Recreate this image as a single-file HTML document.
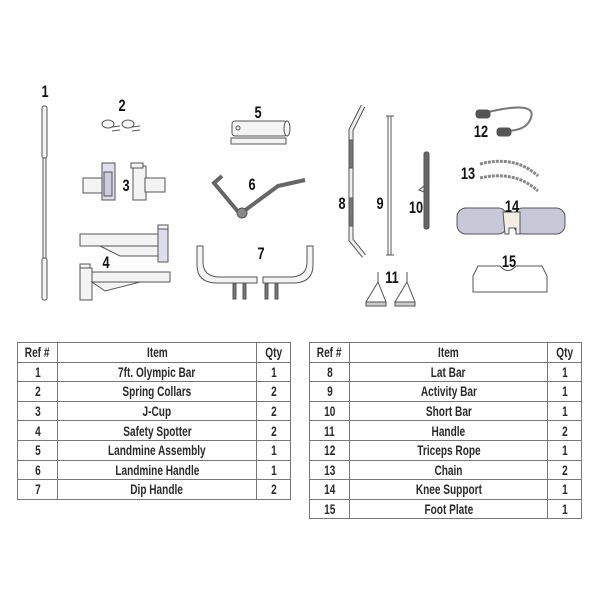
<!DOCTYPE html>
<html><head><meta charset="utf-8"><style>
body{margin:0;background:#fff;width:600px;height:600px;overflow:hidden;position:relative}
svg{position:absolute;left:0;top:0}
table{position:absolute;border-collapse:collapse;font-family:"Liberation Sans",sans-serif;font-weight:bold;font-size:14px;color:#2a2a2a;table-layout:fixed}
td{border:1px solid #777;text-align:center;height:18.6px;padding:0;line-height:18px;white-space:nowrap;overflow:visible}
td span{display:inline-block;transform:scaleX(0.72);transform-origin:center}
</style></head><body>
<svg width="600" height="600" viewBox="0 0 600 600" font-family="Liberation Sans, sans-serif" font-weight="bold" font-size="17" fill="#111">
<g stroke="#555" stroke-width="1" fill="#f4f4f4">
<rect x="42" y="106" width="5" height="52" rx="2"/>
<rect x="43" y="158" width="3" height="100"/>
<rect x="42" y="258" width="5" height="42" rx="2"/>
<ellipse cx="108" cy="124" rx="6" ry="4"/><path d="M112 127 l8 -1 M112 131 l8 -1" />
<ellipse cx="128" cy="124" rx="6" ry="4"/><path d="M132 127 l8 -1 M132 131 l8 -1"/>
<rect x="83" y="178" width="20" height="15"/><rect x="102" y="163" width="13" height="37" fill="#dde"/><rect x="104" y="172" width="8" height="24" fill="#ccd"/>
<rect x="133" y="166" width="13" height="34"/><rect x="145" y="178" width="20" height="14"/><rect x="131" y="163" width="12" height="5"/>
<rect x="80" y="234" width="80" height="12"/><path d="M100 246 L160 246 L160 256 L120 256 Z"/><rect x="158" y="229" width="10" height="33" fill="#dde"/><rect x="158" y="225" width="10" height="4"/>
<rect x="80" y="268" width="12" height="32"/><rect x="92" y="272" width="78" height="10"/><path d="M92 282 L140 282 L105 291 Z"/><rect x="80" y="264" width="10" height="4"/>
<rect x="231" y="138" width="55" height="6"/><rect x="232" y="121" width="55" height="15" rx="3"/><ellipse cx="287" cy="128.5" rx="3" ry="7.5"/><circle cx="238" cy="128" r="2"/>
<path d="M222 176 L214 183 L240 214 L278 186 L305 180" fill="none" stroke="#666" stroke-width="4"/>
<circle cx="242" cy="213" r="5" fill="#888"/>
<path d="M197 246 L197 265 Q197 282 215 283 L257 283 L257 277 L218 277 Q203 276 203 262 L203 246 Z"/>
<path d="M313 246 L313 265 Q313 282 295 283 L263 283 L263 277 L292 277 Q307 276 307 262 L307 246 Z"/>
<rect x="233" y="283" width="3" height="16" fill="#777"/><rect x="243" y="283" width="3" height="16" fill="#777"/>
<rect x="265" y="283" width="3" height="16" fill="#777"/><rect x="275" y="283" width="3" height="16" fill="#777"/>
<path d="M363 106 L351 130 L351 240 L364 256" fill="none" stroke="#555" stroke-width="5"/>
<path d="M363 106 L351 130 L351 240 L364 256" fill="none" stroke="#eee" stroke-width="3"/>
<rect x="349" y="140" width="4" height="28" fill="#777"/><rect x="349" y="198" width="4" height="28" fill="#777"/>
<rect x="388" y="116" width="3" height="139" fill="#fff"/><path d="M386 116 h8 M386 255 h8" fill="none"/>
<rect x="424" y="152" width="5" height="77" rx="2" fill="#666"/><path d="M419 190 l5 -4 v6 z" fill="#eee"/>
<path d="M378 272 V282 L366 302 H386 L378 282" fill="none"/><rect x="366" y="302" width="20" height="4" fill="#ccc"/>
<path d="M407 272 V282 L395 302 H415 L407 282" fill="none"/><rect x="395" y="302" width="20" height="4" fill="#ccc"/>
<path d="M488 112 Q540 100 530 120 Q525 132 500 131" fill="none" stroke="#777" stroke-width="2"/>
<rect x="476" y="110" width="14" height="8" rx="3" fill="#555"/><rect x="497" y="128" width="14" height="8" rx="3" fill="#555"/>
<path d="M480 164 Q515 155 538 176" fill="none" stroke="#888" stroke-width="3" stroke-dasharray="3 1"/>
<path d="M480 178 Q515 170 538 191" fill="none" stroke="#888" stroke-width="3" stroke-dasharray="3 1"/>
<rect x="457" y="208" width="50" height="26" rx="9" fill="#c8c9d8"/>
<rect x="514" y="208" width="51" height="26" rx="9" fill="#c8c9d8"/>
<path d="M503 212 h17 v22 h-4 v-6 h-7 v6 h-4 z" fill="#f3ede6"/>
<path d="M473 292 V276 L478 266 H500 Q508 275 516 266 H542 L547 276 V292 Z" fill="#fff"/>
</g>
<g text-anchor="middle">
<text transform="translate(45,97) scale(0.75,1)">1</text>
<text transform="translate(122,111) scale(0.75,1)">2</text>
<text transform="translate(126,191) scale(0.75,1)">3</text>
<text transform="translate(106,268) scale(0.75,1)">4</text>
<text transform="translate(258,118) scale(0.75,1)">5</text>
<text transform="translate(252,190) scale(0.75,1)">6</text>
<text transform="translate(261,259) scale(0.75,1)">7</text>
<text transform="translate(342,209) scale(0.75,1)">8</text>
<text transform="translate(380,209) scale(0.75,1)">9</text>
<text transform="translate(416,213) scale(0.75,1)">10</text>
<text transform="translate(392,283) scale(0.75,1)">11</text>
<text transform="translate(481,137) scale(0.75,1)">12</text>
<text transform="translate(468,179) scale(0.75,1)">13</text>
<text transform="translate(512,212) scale(0.75,1)">14</text>
<text transform="translate(509,267) scale(0.75,1)">15</text>
</g>
</svg>
<table style="left:17px;top:342px;width:273px">
<colgroup><col style="width:40px"><col style="width:199px"><col style="width:34px"></colgroup>
<tr><td><span>Ref #</span></td><td><span>Item</span></td><td><span>Qty</span></td></tr>
<tr><td><span>1</span></td><td><span>7ft. Olympic Bar</span></td><td><span>1</span></td></tr>
<tr><td><span>2</span></td><td><span>Spring Collars</span></td><td><span>2</span></td></tr>
<tr><td><span>3</span></td><td><span>J-Cup</span></td><td><span>2</span></td></tr>
<tr><td><span>4</span></td><td><span>Safety Spotter</span></td><td><span>2</span></td></tr>
<tr><td><span>5</span></td><td><span>Landmine Assembly</span></td><td><span>1</span></td></tr>
<tr><td><span>6</span></td><td><span>Landmine Handle</span></td><td><span>1</span></td></tr>
<tr><td><span>7</span></td><td><span>Dip Handle</span></td><td><span>2</span></td></tr>
</table>
<table style="left:309px;top:342px;width:272px">
<colgroup><col style="width:40px"><col style="width:198px"><col style="width:34px"></colgroup>
<tr><td><span>Ref #</span></td><td><span>Item</span></td><td><span>Qty</span></td></tr>
<tr><td><span>8</span></td><td><span>Lat Bar</span></td><td><span>1</span></td></tr>
<tr><td><span>9</span></td><td><span>Activity Bar</span></td><td><span>1</span></td></tr>
<tr><td><span>10</span></td><td><span>Short Bar</span></td><td><span>1</span></td></tr>
<tr><td><span>11</span></td><td><span>Handle</span></td><td><span>2</span></td></tr>
<tr><td><span>12</span></td><td><span>Triceps Rope</span></td><td><span>1</span></td></tr>
<tr><td><span>13</span></td><td><span>Chain</span></td><td><span>2</span></td></tr>
<tr><td><span>14</span></td><td><span>Knee Support</span></td><td><span>1</span></td></tr>
<tr><td><span>15</span></td><td><span>Foot Plate</span></td><td><span>1</span></td></tr>
</table>
</body></html>
